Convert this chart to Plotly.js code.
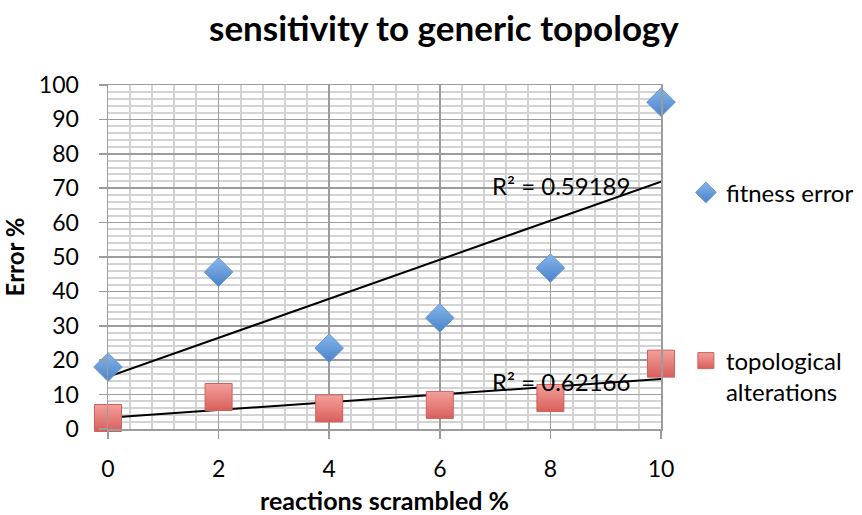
<!DOCTYPE html>
<html>
<head>
<meta charset="utf-8">
<script src="https://cdn.plot.ly/plotly-3.0.1.min.js"></script>
<style>
  html, body { margin: 0; padding: 0; background: #fff; }
  #chart { width: 862px; height: 515px; }
</style>
</head>
<body>
<div id="chart"></div>
<script>
// Percent of reactions scrambled
const scrambled = [0, 2, 4, 6, 8, 10];
// Error % for each series
const fitnessError = [18, 45.6, 23.5, 32.3, 46.8, 95];
const topologicalAlterations = [3.2, 9.3, 6, 7, 9, 19];
// Reported goodness of fit for the linear trendlines
const r2Fitness = "R² = 0.59189";
const r2Topology = "R² = 0.62166";

// Least-squares line through a series, evaluated at the ends of the x range
function linearFit(xs, ys) {
  const n = xs.length;
  const mx = xs.reduce((a, b) => a + b, 0) / n;
  const my = ys.reduce((a, b) => a + b, 0) / n;
  let sxy = 0, sxx = 0;
  for (let i = 0; i < n; i++) {
    sxy += (xs[i] - mx) * (ys[i] - my);
    sxx += (xs[i] - mx) * (xs[i] - mx);
  }
  const slope = sxy / sxx;
  const icpt = my - slope * mx;
  const x0 = Math.min(...xs), x1 = Math.max(...xs);
  return { x: [x0, x1], y: [icpt + slope * x0, icpt + slope * x1] };
}

const fitA = linearFit(scrambled, fitnessError);
const fitB = linearFit(scrambled, topologicalAlterations);

const FONT = "Lato, 'Open Sans', sans-serif";
const major = "#9c9c9c";
const minor = "#d3d3d3";

const traces = [
  {
    x: fitA.x, y: fitA.y, mode: "lines", showlegend: false, hoverinfo: "skip",
    line: { color: "#000", width: 2 }, cliponaxis: false
  },
  {
    x: fitB.x, y: fitB.y, mode: "lines", showlegend: false, hoverinfo: "skip",
    line: { color: "#000", width: 2 }, cliponaxis: false
  },
  {
    x: scrambled, y: fitnessError, mode: "markers", name: "fitness error",
    legendgroup: "a", cliponaxis: false,
    marker: {
      symbol: "diamond", size: 22, color: "#86b6ec",
      gradient: { type: "vertical", color: "#4a82c8" },
      line: { color: "#6a9ad4", width: 1 }
    }
  },
  {
    x: scrambled, y: topologicalAlterations, mode: "markers",
    name: "topological<br>alterations",
    legendgroup: "b", cliponaxis: false,
    marker: {
      symbol: "square", size: 27, color: "#f3a09c",
      gradient: { type: "vertical", color: "#d95f5b" },
      line: { color: "#d0605c", width: 1 }
    }
  }
];

const layout = {
  width: 862, height: 515,
  margin: { l: 108, r: 201, t: 85, b: 86, autoexpand: false },
  paper_bgcolor: "#fff", plot_bgcolor: "#fff",
  font: { family: FONT, color: "#000" },
  title: {
    text: "sensitivity to generic topology",
    font: { family: FONT, size: 35, weight: "bold", color: "#000" },
    xref: "container", x: 0.515, xanchor: "center",
    yref: "container", y: 0.945, yanchor: "middle"
  },
  xaxis: {
    range: [0, 10], tick0: 0, dtick: 2,
    showgrid: true, gridcolor: major, gridwidth: 1.5,
    minor: { dtick: 0.4, tick0: 0, showgrid: true, gridcolor: minor, gridwidth: 2 },
    ticks: "outside", ticklen: 8, tickcolor: major, tickwidth: 1.5,
    showline: true, linecolor: major, linewidth: 1.5, mirror: true,
    zeroline: false,
    tickfont: { size: 23, family: FONT },
    ticklabelstandoff: 11,
    title: {
      text: "reactions scrambled %",
      font: { size: 25, weight: "bold", family: FONT },
      standoff: 26
    }
  },
  yaxis: {
    range: [0, 100], tick0: 0, dtick: 10,
    showgrid: true, gridcolor: major, gridwidth: 1.5,
    minor: { dtick: 2, tick0: 0, showgrid: true, gridcolor: minor, gridwidth: 2 },
    ticks: "outside", ticklen: 8, tickcolor: major, tickwidth: 1.5,
    showline: true, linecolor: major, linewidth: 1.5, mirror: true,
    zeroline: false,
    tickfont: { size: 23, family: FONT },
    ticklabelstandoff: 15,
    title: {
      text: "Error %",
      font: { size: 24, weight: "bold", family: FONT },
      standoff: 8
    }
  },
  legend: {
    x: 1.045, xanchor: "left", y: 0.752, yanchor: "top",
    font: { size: 24, family: FONT },
    tracegroupgap: 134, valign: "top",
    bgcolor: "rgba(0,0,0,0)"
  },
  annotations: [
    {
      xref: "x", yref: "y", x: 6.9, y: 70.9, xanchor: "left", yanchor: "middle",
      text: r2Fitness, showarrow: false, font: { size: 24, family: FONT, color: "#000" }
    },
    {
      xref: "x", yref: "y", x: 6.9, y: 13.9, xanchor: "left", yanchor: "middle",
      text: r2Topology, showarrow: false, font: { size: 24, family: FONT, color: "#000" }
    }
  ],
  showlegend: true
};

Plotly.newPlot("chart", traces, layout, { displayModeBar: false, staticPlot: true });
</script>
</body>
</html>
